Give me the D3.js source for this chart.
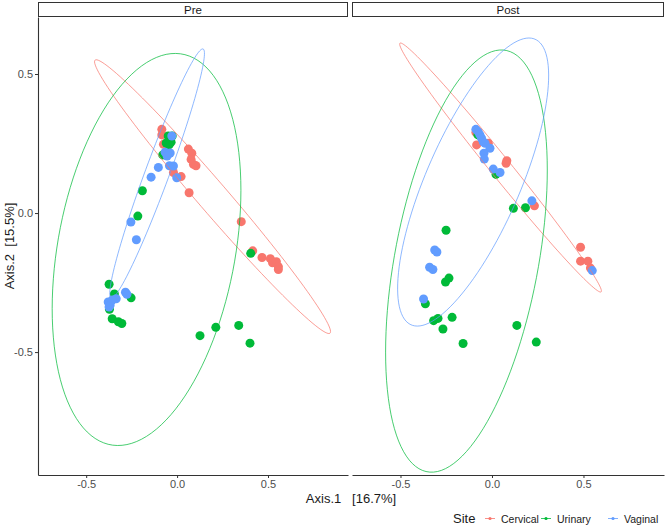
<!DOCTYPE html>
<html><head><meta charset="utf-8">
<script src="https://cdn.jsdelivr.net/npm/d3@7"></script>
<style>body{margin:0;background:#fff}svg{display:block}text{font-family:"Liberation Sans",Arial,sans-serif}</style>
</head><body><svg id="c" width="666" height="527"></svg>
<script>
const facets = ["Pre", "Post"];
const sites = ["Cervical", "Urinary", "Vaginal"];
const siteColors = ["#F8766D", "#00BA38", "#619CFF"];
const xTicks = [-0.5, 0.0, 0.5];
const yTicks = [0.5, 0.0, -0.5];
const xTitle = "Axis.1   [16.7%]";
const yTitle = "Axis.2  [15.5%]";

const preCervical = [[-0.084,0.301],[-0.084,0.281],[-0.075,0.247],[0.062,0.230],[0.081,0.215],[0.077,0.193],[0.090,0.175],[0.104,0.170],[-0.020,0.146],[0.022,0.131],[0.066,0.073],[0.353,-0.031],[0.416,-0.136],[0.467,-0.160],[0.513,-0.164],[0.525,-0.179],[0.546,-0.175],[0.557,-0.193],[0.557,-0.203]];
const preUrinary = [[-0.049,0.277],[-0.038,0.266],[-0.033,0.255],[-0.044,0.245],[-0.027,0.277],[-0.060,0.252],[-0.079,0.209],[-0.191,0.080],[-0.216,-0.011],[0.405,-0.145],[-0.374,-0.256],[-0.345,-0.291],[-0.253,-0.305],[-0.372,-0.346],[-0.357,-0.380],[-0.323,-0.391],[-0.304,-0.397],[0.126,-0.441],[0.213,-0.411],[0.339,-0.404],[0.401,-0.468]];
const preVaginal = [[-0.029,0.277],[-0.066,0.219],[-0.049,0.212],[-0.038,0.216],[-0.055,0.205],[-0.103,0.164],[-0.042,0.170],[-0.020,0.169],[-0.002,0.127],[-0.143,0.129],[-0.254,-0.032],[-0.224,-0.096],[-0.284,-0.285],[-0.276,-0.292],[-0.335,-0.308],[-0.379,-0.320],[-0.368,-0.331],[-0.357,-0.313],[-0.374,-0.338]];
const postCervical = [[-0.088,0.290],[-0.084,0.245],[-0.020,0.251],[0.081,0.188],[0.077,0.179],[0.232,0.026],[0.484,-0.123],[0.484,-0.173],[0.524,-0.173],[0.538,-0.198]];
const postUrinary = [[-0.077,0.281],[0.022,0.139],[0.117,0.017],[0.183,0.019],[-0.251,-0.062],[-0.254,-0.248],[-0.235,-0.234],[-0.364,-0.326],[-0.319,-0.387],[-0.295,-0.379],[-0.218,-0.375],[-0.268,-0.417],[0.136,-0.404],[-0.158,-0.469],[0.242,-0.464]];
const postVaginal = [[-0.088,0.301],[-0.075,0.292],[-0.066,0.281],[-0.057,0.269],[-0.048,0.256],[-0.038,0.251],[-0.011,0.233],[-0.044,0.215],[-0.042,0.194],[0.007,0.158],[0.044,0.146],[0.218,0.044],[-0.313,-0.133],[-0.301,-0.140],[-0.341,-0.195],[-0.323,-0.203],[-0.374,-0.309],[0.548,-0.207]];

// ellipse: center x, center y, half-axis A (x,y), half-axis B (x,y) in data units
const preEllipses = [[0.195,0.059,0.646,-0.491,0.0626,0.0352],[-0.168,-0.131,0.519,0.213,0,-0.672],[-0.110,0.142,0.253,0.448,0.062,-0.0151]];
const postEllipses = [[0.0467,0.1637,0.5467,-0.4478,0.0714,0],[-0.1396,-0.1727,0.4418,0.3273,0,-0.685],[-0.103,0.1115,0.278,0,0.305,0.518]];

const pointsByFacet = [[preCervical, preUrinary, preVaginal], [postCervical, postUrinary, postVaginal]];
const ellipsesByFacet = [preEllipses, postEllipses];

const svg = d3.select("#c");
const panelX = [[38, 348], [352, 664]];
const plotTop = 17, plotBottom = 475, stripTop = 2;
const y = d3.scaleLinear().domain([-0.942, 0.705]).range([plotBottom, plotTop]);

facets.forEach((f, fi) => {
  const x = d3.scaleLinear().domain([-0.765, 0.94]).range(panelX[fi]);
  const g = svg.append("g");
  g.append("rect").attr("x", panelX[fi][0] + 0.5).attr("y", stripTop + 0.5)
    .attr("width", panelX[fi][1] - panelX[fi][0] - 1).attr("height", plotTop - stripTop - 1)
    .attr("fill", "#fff").attr("stroke", "#333").attr("stroke-width", 1);
  g.append("text").attr("x", (panelX[fi][0] + panelX[fi][1]) / 2).attr("y", 14)
    .attr("text-anchor", "middle").attr("font-size", 11.5).attr("fill", "#1a1a1a").text(f);
  pointsByFacet[fi].forEach((pts, si) => {
    g.append("g").selectAll("circle").data(pts).join("circle")
      .attr("cx", d => x(d[0])).attr("cy", d => y(d[1])).attr("r", 4.5)
      .attr("fill", siteColors[si]);
  });
  const line = d3.line().x(d => x(d[0])).y(d => y(d[1]));
  ellipsesByFacet[fi].forEach((e, si) => {
    const pts = d3.range(0, 361, 3).map(a => {
      const t = a * Math.PI / 180;
      return [e[0] + e[2] * Math.cos(t) + e[4] * Math.sin(t), e[1] + e[3] * Math.cos(t) + e[5] * Math.sin(t)];
    });
    g.append("path").attr("d", line(pts)).attr("fill", "none")
      .attr("stroke", siteColors[si]).attr("stroke-width", 0.9).attr("stroke-opacity", 0.8);
  });
  const xa = g.append("g").attr("transform", `translate(0,${plotBottom})`)
    .call(d3.axisBottom(x).tickValues(xTicks).tickFormat(d3.format(".1f")).tickSize(3).tickSizeOuter(0));
  xa.select(".domain").attr("stroke", "#333").attr("stroke-width", 1.1);
  xa.selectAll(".tick line").attr("stroke", "#333");
  xa.selectAll("text").attr("font-size", 11).attr("fill", "#4d4d4d").attr("dy", "0.71em").attr("y", 5)
    .style("font-family", '"Liberation Sans",Arial,sans-serif');
  xa.selectAll("text").text(d => d3.format(".1f")(d).replace("−", "-"));
  if (fi === 0) {
    const ya = g.append("g").attr("transform", `translate(${panelX[0][0]},0)`)
      .call(d3.axisLeft(y).tickValues(yTicks).tickFormat(d3.format(".1f")).tickSize(3).tickSizeOuter(0));
    ya.select(".domain").attr("stroke", "#333").attr("stroke-width", 1.1);
    ya.selectAll(".tick line").attr("stroke", "#333");
    ya.selectAll("text").attr("font-size", 11).attr("fill", "#4d4d4d").attr("x", -5)
      .style("font-family", '"Liberation Sans",Arial,sans-serif');
    ya.selectAll("text").text(d => d3.format(".1f")(d).replace("−", "-"));
  }
});

svg.append("text").attr("x", 351).attr("y", 503).attr("text-anchor", "middle")
  .attr("font-size", 13).attr("fill", "#1a1a1a").style("white-space", "pre").text(xTitle);
svg.append("text").attr("transform", `translate(14,${(plotTop + plotBottom) / 2}) rotate(-90)`)
  .attr("text-anchor", "middle").attr("font-size", 13).attr("fill", "#1a1a1a").style("white-space", "pre").text(yTitle);

const legendX = [490, 546, 613];
svg.append("text").attr("x", 453).attr("y", 523).attr("font-size", 13).attr("fill", "#1a1a1a").text("Site");
sites.forEach((s, i) => {
  const lg = svg.append("g");
  lg.append("line").attr("x1", legendX[i] - 5).attr("x2", legendX[i] + 5).attr("y1", 518.5).attr("y2", 518.5)
    .attr("stroke", siteColors[i]).attr("stroke-width", 0.8);
  lg.append("circle").attr("cx", legendX[i]).attr("cy", 518.5).attr("r", 1.6).attr("fill", siteColors[i]);
  lg.append("text").attr("x", legendX[i] + 11).attr("y", 523).attr("font-size", 10.5).attr("fill", "#1a1a1a").text(s);
});
</script></body></html>
